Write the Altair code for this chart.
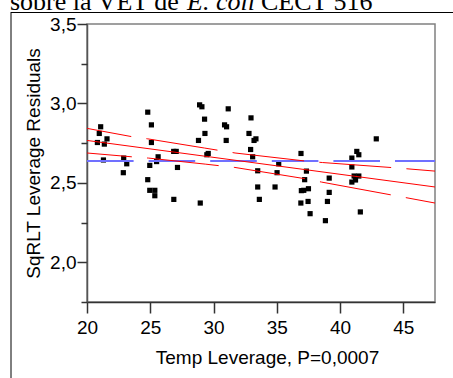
import altair as alt
import pandas as pd

# ---- data ----
temp = [21.08, 20.97, 20.82, 21.37, 21.58, 21.3, 22.9, 23.14, 22.87, 24.8,
        25.09, 25.09, 25.62, 24.96, 24.8, 24.96, 25.36, 25.36, 26.85, 27.05,
        27.15, 26.86, 28.95, 28.9, 29.08, 29.29, 29.32, 28.81, 31.16, 32.96,
        30.87, 31.03, 32.8, 33.35, 33.2, 31.0, 32.93, 33.09, 29.58, 29.47,
        33.49, 33.49, 33.62, 35.15, 35.02, 34.86, 36.91, 37.34, 37.2, 36.94,
        37.13, 37.5, 37.47, 36.9, 37.63, 42.86, 41.32, 41.48, 40.93, 40.93,
        41.11, 41.48, 41.22, 40.93, 39.14, 39.14, 39.0, 41.6, 38.84, 25.5]
resid = [2.853, 2.811, 2.754, 2.744, 2.777, 2.644, 2.656, 2.620, 2.564, 2.945,
         2.865, 2.754, 2.664, 2.610, 2.520, 2.453, 2.453, 2.419, 2.698, 2.698,
         2.597, 2.396, 2.373, 2.991, 2.979, 2.901, 2.811, 2.767, 2.966, 2.909,
         2.865, 2.853, 2.811, 2.777, 2.767, 2.767, 2.710, 2.664, 2.685, 2.677,
         2.576, 2.474, 2.396, 2.620, 2.564, 2.474, 2.685, 2.574, 2.520, 2.451,
         2.453, 2.463, 2.383, 2.373, 2.306, 2.777, 2.698, 2.677, 2.656, 2.600,
         2.543, 2.543, 2.518, 2.505, 2.530, 2.440, 2.383, 2.317, 2.262, 2.634]

fit_x = [20, 47.5]
fit_y = [2.767, 2.474]
upper_x = [20, 23.6, 24.8, 29.3, 31.7, 37.4, 38.6, 44.3, 47.5]
upper_y = [2.843, 2.79, 2.777, 2.719, 2.688, 2.636, 2.628, 2.595, 2.574]
lower_x = [20, 23.67, 24.85, 29.34, 31.69, 37.39, 38.53, 44.25, 47.5]
lower_y = [2.688, 2.663, 2.656, 2.618, 2.597, 2.524, 2.505, 2.421, 2.373]
mean_x = [20, 47.5]
mean_y = [2.637, 2.637]

x_domain = [20, 47.5]
y_domain = [1.75, 3.5]
x_ticks = [20, 22.5, 25, 27.5, 30, 32.5, 35, 37.5, 40, 42.5, 45, 47.5]
y_major = [2.0, 2.5, 3.0, 3.5]
y_minor = [1.75, 2.25, 2.75, 3.25]

x_title = "Temp Leverage, P=0,0007"
y_title = "SqRLT  Leverage Residuals"
head_a = "sobre la VET de"
head_b = "E. coli"
head_c = "CECT 516"

FONT = "Liberation Sans"
W, H = 348, 278

pts = pd.DataFrame({"x": temp, "y": resid})
fit = pd.DataFrame({"x": fit_x, "y": fit_y})
up = pd.DataFrame({"x": upper_x, "y": upper_y})
lo = pd.DataFrame({"x": lower_x, "y": lower_y})
mn = pd.DataFrame({"x": mean_x, "y": mean_y})
dummy = pd.DataFrame({"k": [0]})

xs = alt.Scale(domain=x_domain, nice=False, zero=False)
ys = alt.Scale(domain=y_domain, nice=False, zero=False)

x_axis = alt.Axis(
    values=x_ticks, grid=False, title=x_title,
    labelExpr="datum.value % 5 == 0 ? format(datum.value, 'd') : ''",
    tickSize={"condition": {"test": "datum.value % 5 == 0", "value": 11}, "value": 6},
    labelPadding=5, labelFont=FONT, labelFontSize=19, labelColor="black",
    titleFont=FONT, titleFontSize=19, titleFontWeight="normal", titleColor="black",
    titleX=180, titleY=61, titleBaseline="alphabetic", titleAlign="center",
    domainColor="#333", domainWidth=1.5, tickColor="#333", tickWidth=1.5,
    labelFlush=False, labelOverlap=False,
)
y_axis = alt.Axis(
    orient="left", values=y_major, grid=False, title=y_title,
    labelExpr="replace(format(datum.value, '.1f'), '.', ',')",
    tickSize=10,
    labelPadding=1, labelFont=FONT, labelFontSize=19, labelColor="black",
    titleFont=FONT, titleFontSize=19, titleFontWeight="normal", titleColor="black",
    titleX=-54, titleY=H / 2, titleAngle=270, titleAlign="center", titleBaseline="middle",
    domainColor="#555", domainWidth=1.5, tickColor="#333", tickWidth=1.5,
    labelFlush=False, labelOverlap=False,
)
y_axis_minor = alt.Axis(
    orient="left", values=y_minor, grid=False, title=None, labels=False,
    tickSize=6, domain=False, tickColor="#333", tickWidth=1.5,
)

points = alt.Chart(pts).mark_square(size=27, color="black", opacity=1).encode(
    x=alt.X("x:Q", scale=xs, axis=x_axis),
    y=alt.Y("y:Q", scale=ys, axis=y_axis),
)
minor_holder = alt.Chart(pts).mark_point(opacity=0).encode(
    x=alt.X("x:Q", scale=xs),
    y=alt.Y("y:Q", scale=ys, axis=y_axis_minor),
)

enc = dict(x=alt.X("x:Q", scale=xs), y=alt.Y("y:Q", scale=ys, axis=None))

mean_line = alt.Chart(mn).mark_line(
    color="#7070ff", strokeWidth=2, strokeDash=[46.6, 15]
).encode(**enc)
fit_line = alt.Chart(fit).mark_line(color="red", strokeWidth=1).encode(**enc)
up_line = alt.Chart(up).mark_line(
    color="red", strokeWidth=1, strokeDash=[72, 15.3], strokeDashOffset=27
).encode(**enc)
lo_line = alt.Chart(lo).mark_line(
    color="red", strokeWidth=1, strokeDash=[72, 15.3], strokeDashOffset=27
).encode(**enc)

# figure frame (page border around the figure)
frame_left = alt.Chart(dummy).mark_rule(color="black", strokeWidth=1).encode(
    x=alt.value(-76), y=alt.value(-12), y2=alt.value(360)
)
frame_top = alt.Chart(dummy).mark_rule(color="black", strokeWidth=1).encode(
    x=alt.value(-76), x2=alt.value(370), y=alt.value(-11.5)
)

# heading text, clipped at the top of the page
HEAD_Y = -14
HEAD_SIZE = 26
t_a = alt.Chart(dummy).mark_text(
    text=head_a, font="Liberation Serif", fontSize=HEAD_SIZE, align="left",
    baseline="alphabetic", color="black"
).encode(x=alt.value(-77), y=alt.value(HEAD_Y))
t_b = alt.Chart(dummy).mark_text(
    text=head_b, font="Liberation Serif", fontSize=HEAD_SIZE, fontStyle="italic",
    align="left", baseline="alphabetic", color="black"
).encode(x=alt.value(100), y=alt.value(HEAD_Y))
t_c = alt.Chart(dummy).mark_text(
    text=head_c, font="Liberation Serif", fontSize=HEAD_SIZE, align="left",
    baseline="alphabetic", color="black"
).encode(x=alt.value(174), y=alt.value(HEAD_Y))

chart = alt.layer(
    points, minor_holder, mean_line, fit_line, up_line, lo_line,
    frame_left, frame_top, t_a, t_b, t_c
).resolve_axis(y="independent").properties(
    width=W, height=H,
    autosize=alt.AutoSizeParams(type="none"),
    padding={"left": 87, "top": 24, "right": 18, "bottom": 76},
    background="white",
).configure_view(stroke="#808080", strokeWidth=1.5)

chart.save("out.html", embed_options={"renderer": "svg", "actions": False})
